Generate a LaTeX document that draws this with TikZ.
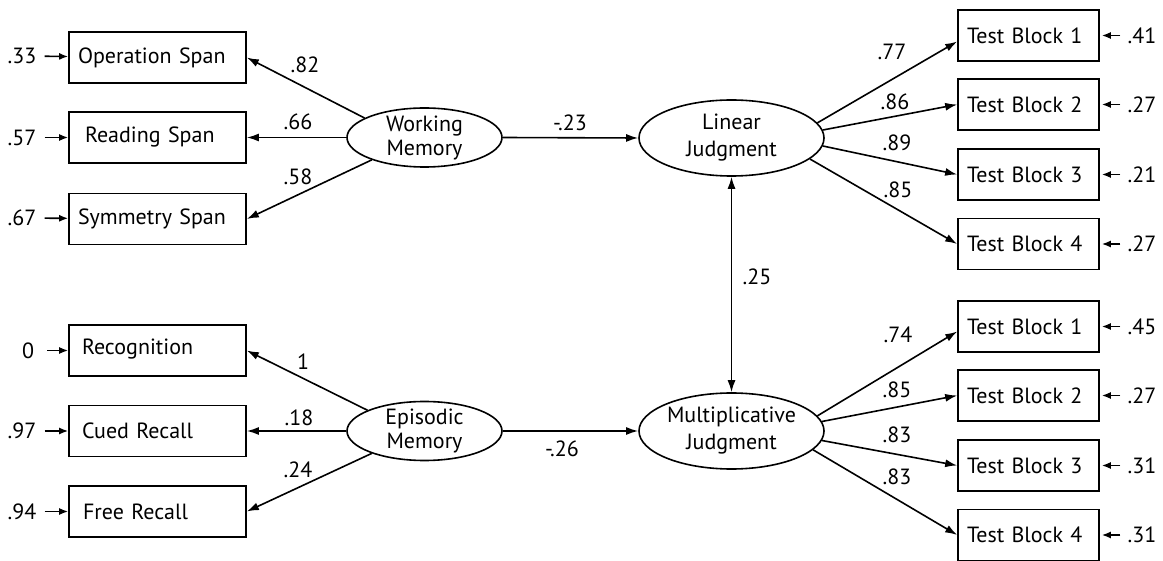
\documentclass[tikz,border=0pt]{standalone}
\usepackage{fontspec}
\setmainfont{PT Sans}
\usetikzlibrary{arrows.meta,shapes.geometric}
\begin{document}
\begin{tikzpicture}[x=1pt,y=-1pt,
  font=\fontsize{22}{24}\selectfont,
  box/.style={draw, line width=1.6pt, minimum height=51pt, inner ysep=0pt},
  lbox/.style={box, minimum width=177pt, text width=159pt, align=left, inner xsep=9pt},
  rbox/.style={box, minimum width=141pt, text width=123pt, align=left, inner xsep=9pt},
  latent/.style={draw, ellipse, line width=1.6pt, inner sep=-14pt, align=center},
  small/.style={latent, minimum width=155pt, minimum height=59pt},
  big/.style={latent, minimum width=185pt, minimum height=76pt, font=\fontsize{22}{27}\selectfont},
  arr/.style={line width=1.6pt, -{Latex[length=12pt,width=8pt]}},
  darr/.style={line width=1.6pt, {Latex[length=12pt,width=8pt]}-{Latex[length=12pt,width=8pt]}},
  err/.style={line width=1.6pt, -{Latex[length=9pt,width=7pt]}},
  val/.style={inner sep=0pt},
  evl/.style={inner sep=3pt},
]
\useasboundingbox (0,0) rectangle (1163,561);

% latent variables
\node[small] (WM) at (424.5,137.5) {Working\\Memory};
\node[small] (EM) at (424.5,431) {Episodic\\Memory};
\node[big] (LJ) at (731.5,138) {Linear\\Judgment};
\node[big] (MJ) at (731.5,431) {Multiplicative\\Judgment};

% left indicators
\node[lbox] (OS) at (157.5,57.5) {Operation Span};
\node[lbox] (RS) at (157.5,137.5) {\hspace*{7pt}Reading Span};
\node[lbox] (SS) at (157.5,219) {Symmetry Span};
\node[lbox] (RC) at (157.5,350.5) {\hspace*{4pt}\raisebox{7pt}{Recognition}};
\node[lbox] (CR) at (157.5,431) {\hspace*{4pt}Cued Recall};
\node[lbox] (FR) at (157.5,511.5) {\hspace*{5pt}Free Recall};

% right indicators
\node[rbox] (L1) at (1028.5,35.5) {Test Block 1};
\node[rbox] (L2) at (1028.5,104.5) {Test Block 2};
\node[rbox] (L3) at (1028.5,174.5) {Test Block 3};
\node[rbox] (L4) at (1028.5,244) {Test Block 4};
\node[rbox] (M1) at (1028.5,326.5) {Test Block 1};
\node[rbox] (M2) at (1028.5,395.5) {Test Block 2};
\node[rbox] (M3) at (1028.5,465.5) {Test Block 3};
\node[rbox] (M4) at (1028.5,535) {Test Block 4};

% error terms left
\node[evl] (eOS) at (22,56) {.33};
\node[evl] (eRS) at (22,137.5) {.57};
\node[evl] (eSS) at (22,218) {.67};
\node[evl] (eRC) at (28,350.5) {0};
\node[evl] (eCR) at (22,431) {.97};
\node[evl] (eFR) at (22,511.5) {.94};
\foreach \e/\b in {eOS/OS,eRS/RS,eSS/SS,eCR/CR,eFR/FR}
  \draw[err, shorten <=5pt] (\e) -- (\b);
\draw[err, shorten <=10pt] (eRC) -- (RC);

% error terms right
\node[evl] (eL1) at (1142,35.5) {.41};
\node[evl] (eL2) at (1142,104.5) {.27};
\node[evl] (eL3) at (1142,174.5) {.21};
\node[evl] (eL4) at (1142,244) {.27};
\node[evl] (eM1) at (1142,326.5) {.45};
\node[evl] (eM2) at (1142,395.5) {.27};
\node[evl] (eM3) at (1142,465.5) {.31};
\node[evl] (eM4) at (1142,535) {.31};
\foreach \e/\b in {eL1/L1,eL2/L2,eL3/L3,eL4/L4,eM1/M1,eM2/M2,eM3/M3,eM4/M4}
  \draw[err, shorten <=4pt, shorten >=2pt] (\e) -- (\b);

% loadings left
\draw[arr] (WM.162) -- (OS.east);
\draw[arr] (WM.west) -- (RS.east);
\draw[arr] (WM.203) -- (SS.east);
\draw[arr] (EM.160) -- (RC.east);
\draw[arr] (EM.west) -- (CR.east);
\draw[arr] (EM.203) -- (FR.east);

% structural paths
\draw[arr] (WM.east) -- (LJ.west);
\draw[arr] (EM.east) -- (MJ.west);
\draw[darr] (LJ.south) -- (MJ.north);

% loadings right
\draw[arr] (LJ.10) -- ([yshift=-6pt]L1.west);
\draw[arr] (LJ.5) -- (L2.west);
\draw[arr] (LJ.-5) -- (L3.west);
\draw[arr] (LJ.-15) -- (L4.west);
\draw[arr] (MJ.10) -- ([yshift=-5pt]M1.west);
\draw[arr] (MJ.6) -- (M2.west);
\draw[arr] (MJ.-6) -- (M3.west);
\draw[arr] (MJ.-13) -- (M4.west);

% path values
\node[val] at (305,65) {.82};
\node[val] at (298,122) {.66};
\node[val] at (298,177) {.58};
\node[val] at (303,362) {1};
\node[val] at (299,418) {.18};
\node[val] at (298,470) {.24};
\node[val] at (570,123) {-.23};
\node[val] at (562,449) {-.26};
\node[val] at (757,277) {.25};
\node[val] at (892,52) {.77};
\node[val] at (895,102) {.86};
\node[val] at (897,143) {.89};
\node[val] at (898,190) {.85};
\node[val] at (898,335) {.74};
\node[val] at (897,390) {.85};
\node[val] at (897,435) {.83};
\node[val] at (897,477) {.83};
\end{tikzpicture}
\end{document}
